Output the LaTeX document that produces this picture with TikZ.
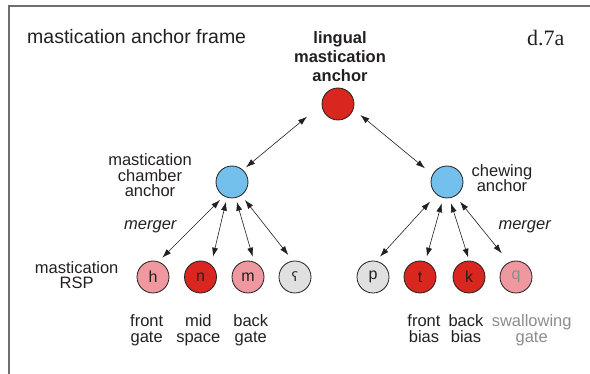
\documentclass[tikz,border=0pt]{standalone}
\usepackage{fontspec}
\setmainfont{Liberation Sans}
\newfontfamily\serifdfont{Liberation Serif}
\newfontfamily\ipafont{DejaVu Sans}
\usetikzlibrary{calc,arrows.meta}
\definecolor{cred}{RGB}{217,38,30}
\definecolor{cblue}{RGB}{115,192,236}
\definecolor{cpink}{RGB}{240,152,160}
\definecolor{cgrey}{RGB}{224,224,224}
\definecolor{txt}{RGB}{35,31,32}
\definecolor{framec}{RGB}{110,110,110}
\definecolor{greytxt}{RGB}{140,140,140}
\begin{document}
\begin{tikzpicture}[x=1pt,y=-1pt,
  ball/.style={circle,draw=txt,line width=0.8pt,minimum size=32pt,inner sep=0pt,
    font=\fontsize{16}{16}\selectfont,text=txt},
  lbl/.style={align=center,inner sep=0pt,text=txt,font=\fontsize{16.5}{15.5}\selectfont},
  arr/.style={{Latex[length=9pt,width=6pt]}-{Latex[length=9pt,width=6pt]},line width=0.6pt,draw=txt}]
\useasboundingbox (0,0) rectangle (590,374);
\draw[framec,line width=1.6pt] (9,374) -- (9,6) -- (590,6);

% titles
\node[anchor=base west,inner sep=0pt,text=txt,font=\fontsize{19.5}{19.5}\selectfont] (title) at (27,44) {mastication anchor frame};
\node[anchor=base west,inner sep=0pt,text=txt,font=\serifdfont\fontsize{22}{22}\selectfont] (code) at (527,45.7) {d.7a};

% nodes
\node[ball,fill=cred] (T) at (338,104) {};
\node[ball,fill=cblue] (L) at (232,182) {};
\node[ball,fill=cblue] (R) at (447,182) {};
\node[ball,fill=cpink] (h) at (153,277) {h};
\node[ball,fill=cred] (n) at (200.5,277) {n};
\node[ball,fill=cpink] (m) at (248,277) {m};
\node[ball,fill=cgrey,font=\ipafont\fontsize{13}{13}\selectfont] (ain) at (295,277) {ʕ};
\node[ball,fill=cgrey] (p) at (373,277) {p};
\node[ball,fill=cred] (t) at (420,277) {t};
\node[ball,fill=cred] (k) at (469,277) {k};
\node[ball,fill=cpink,text=greytxt] (q) at (516,277) {q};

% labels (anchor=base is the baseline of the last line)
\node[lbl,anchor=base,font=\bfseries\fontsize{16.5}{19}\selectfont] (Tl) at (340,81.7) {lingual\\mastication\\anchor};
\node[lbl,anchor=base] (Ll) at (150,197) {mastication\\chamber\\anchor};
\node[lbl,anchor=base] (Rl) at (502,191.7) {chewing\\anchor};
\node[lbl,anchor=base] (rsp) at (76.7,289) {mastication\\RSP};
\node[lbl,anchor=base,font=\itshape\fontsize{16.5}{15.5}\selectfont] (mg1) at (150.3,230) {merger};
\node[lbl,anchor=base,font=\itshape\fontsize{16.5}{15.5}\selectfont] (mg2) at (524.7,230) {merger};
\node[lbl,anchor=base] (b1) at (146.7,342.3) {front\\gate};
\node[lbl,anchor=base] (b2) at (198.3,342.3) {mid\\space};
\node[lbl,anchor=base] (b3) at (250.8,342.3) {back\\gate};
\node[lbl,anchor=base] (b4) at (424,342.3) {front\\bias};
\node[lbl,anchor=base] (b5) at (466,342.3) {back\\bias};
\node[lbl,anchor=base,text=greytxt] (b6) at (531.7,342.3) {swallowing\\gate};

% connectors
\draw[arr] ($(T)+(-31,12.7)$) -- ($(L)+(14,-14.7)$);
\draw[arr] ($(T)+(22.4,11)$) -- ($(R)+(-22,-13.7)$);
\draw[arr] ($(L)+(-12,18)$) -- ($(h)+(9.3,-19.3)$);
\draw[arr] ($(L)+(-6,19.7)$) -- ($(n)+(12.5,-20.3)$);
\draw[arr] ($(L)+(4.7,19.7)$) -- ($(m)+(4.7,-20.3)$);
\draw[arr] ($(L)+(13,18)$) -- ($(ain)+(-6.7,-22)$);
\draw[arr] ($(R)+(-17,19.7)$) -- ($(p)+(7,-20.3)$);
\draw[arr] ($(R)+(-5.3,21.3)$) -- ($(t)+(6.7,-20.3)$);
\draw[arr] ($(R)+(4,21.3)$) -- ($(k)+(-0.7,-19.3)$);
\draw[arr] ($(R)+(13,19.7)$) -- ($(q)+(-14.3,-23.7)$);
\end{tikzpicture}
\end{document}
